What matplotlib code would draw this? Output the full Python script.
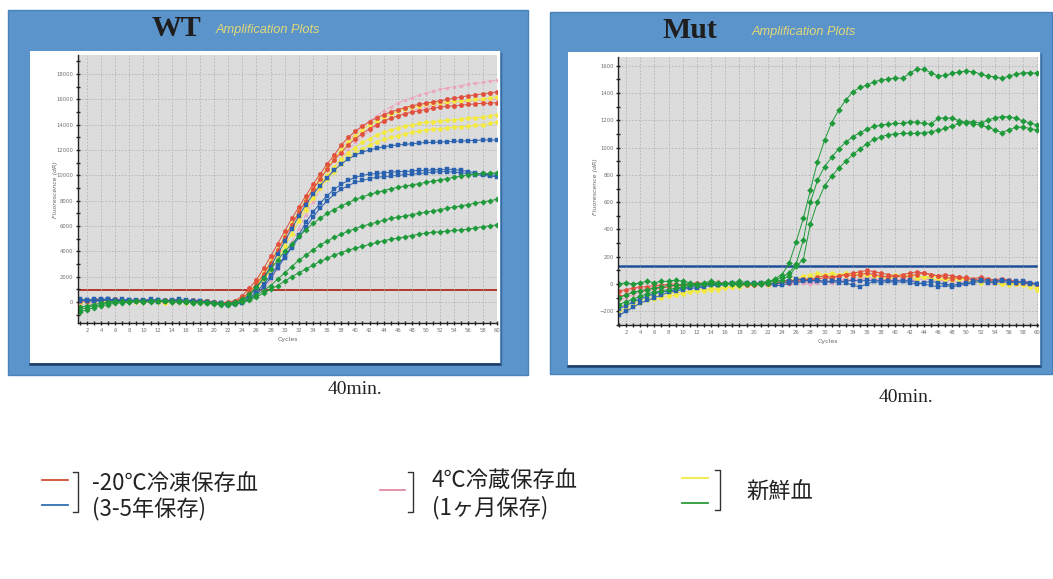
import matplotlib
matplotlib.use("Agg")
import matplotlib.pyplot as plt
from matplotlib.patches import Rectangle
from matplotlib.ticker import MultipleLocator

W, H = 1053, 579

cycles = list(range(1, 61))

# ---------------- WT (dR) ----------------
wt_red_1 = [150, 100, 200, 150, 100, 200, 150, 100, 150, 100, 50, 100, 150, 100, 50, 100, 150, 100, 50, 0,
            -50, 0, 100, 500, 1100, 1750, 2650, 3600, 4600, 5600, 6600, 7500, 8400, 9300, 10100, 10900, 11600, 12400, 13000, 13500,
            13900, 14250, 14550, 14800, 15000, 15200, 15350, 15500, 15600, 15700, 15800, 15900, 16000, 16100, 16200, 16300, 16350, 16450, 16500, 16600]
wt_red_2 = [50, 100, 150, 150, 200, 150, 100, 150, 100, 150, 100, 50, 100, 150, 100, 50, 50, 100, 50, 0,
            -100, -50, 50, 300, 800, 1400, 2200, 3100, 4100, 5100, 6100, 7100, 8000, 8900, 9700, 10500, 11200, 11800, 12400, 12900,
            13300, 13700, 14000, 14300, 14500, 14700, 14850, 15000, 15100, 15200, 15300, 15400, 15450, 15500, 15550, 15600, 15650, 15700, 15700, 15750]
wt_pink_1 = [-400, -300, -200, -100, 0, 50, 100, 100, 50, 100, 50, 0, 50, 100, 50, 0, 50, 0, -50, -100,
             -150, -100, 0, 300, 700, 1300, 2100, 3000, 4000, 5000, 6000, 7000, 7900, 8800, 9700, 10500, 11300, 12000, 12700, 13300,
             13800, 14300, 14700, 15100, 15400, 15700, 15950, 16150, 16350, 16500, 16650, 16800, 16900, 17000, 17100, 17200, 17300, 17350, 17450, 17500]
wt_pink_2 = [-200, -150, -100, -50, 0, 50, 0, 50, 100, 50, 0, 50, 0, -50, 0, 50, 0, -50, -100, -150,
             -200, -150, -100, 0, 200, 500, 1000, 1700, 2600, 3600, 4700, 5800, 6900, 7900, 8900, 9800, 10600, 11300, 12000, 12600,
             13100, 13500, 13900, 14200, 14500, 14700, 14900, 15100, 15250, 15400, 15500, 15600, 15700, 15750, 15800, 15850, 15900, 15950, 16000, 16000]
wt_yellow_1 = [0, 50, 100, 100, 50, 100, 50, 0, 50, 100, 50, 0, -50, 0, 50, 0, -50, 0, -50, -100,
               -150, -100, 0, 300, 800, 1500, 2300, 3200, 4200, 5200, 6200, 7200, 8100, 9000, 9800, 10600, 11300, 12000, 12600, 13100,
               13600, 14000, 14300, 14600, 14850, 15050, 15250, 15400, 15500, 15600, 15700, 15750, 15800, 15850, 15900, 15950, 16000, 16050, 16100, 16200]
wt_yellow_2 = [100, 150, 100, 50, 100, 50, 0, 50, 0, 50, 100, 50, 0, 50, 0, -50, 0, 50, 0, -50,
               -100, -50, 50, 300, 700, 1300, 2000, 2900, 3800, 4800, 5800, 6700, 7600, 8500, 9300, 10000, 10700, 11300, 11800, 12200,
               12600, 12900, 13200, 13400, 13600, 13750, 13900, 14000, 14100, 14200, 14250, 14300, 14350, 14400, 14450, 14500, 14550, 14600, 14700, 14800]
wt_yellow_3 = [0, 0, 50, 100, 50, 0, 50, 100, 50, 0, 50, 0, -50, 0, 50, 0, -50, -100, -50, -100,
               -150, -200, -100, 100, 500, 1000, 1700, 2500, 3400, 4400, 5400, 6400, 7300, 8200, 9000, 9700, 10300, 10900, 11400, 11800,
               12100, 12400, 12650, 12850, 13000, 13150, 13300, 13400, 13500, 13600, 13650, 13700, 13750, 13800, 13850, 13900, 13950, 14000, 14100, 14200]
wt_blue_1 = [200, 150, 200, 250, 200, 150, 200, 150, 100, 150, 200, 150, 100, 150, 200, 150, 100, 50, 0, -50,
             -100, -200, -150, 100, 500, 1100, 1900, 2800, 3800, 4800, 5800, 6800, 7700, 8500, 9200, 9800, 10400, 10900, 11300, 11600,
             11850, 12000, 12150, 12250, 12350, 12400, 12450, 12500, 12550, 12600, 12600, 12650, 12650, 12700, 12700, 12750, 12750, 12800, 12800, 12800]
wt_blue_2 = [100, 150, 100, 150, 200, 150, 100, 150, 100, 50, 100, 150, 100, 50, 100, 50, 0, 50, 0, -50,
             -100, -150, -100, 0, 300, 800, 1400, 2100, 2900, 3600, 4400, 5300, 6300, 7100, 7800, 8400, 8900, 9300, 9600, 9850,
             10000, 10100, 10150, 10200, 10250, 10300, 10300, 10350, 10400, 10400, 10450, 10450, 10500, 10450, 10400, 10300, 10200, 10100, 10050, 10000]
wt_blue_3 = [150, 100, 50, 100, 150, 100, 50, 100, 150, 100, 50, 0, 50, 100, 50, 0, 50, 0, -50, -100,
             -150, -200, -150, -50, 200, 600, 1200, 1900, 2700, 3500, 4300, 5100, 5900, 6700, 7400, 8000, 8500, 8900, 9200, 9450,
             9600, 9750, 9850, 9900, 9950, 10000, 10050, 10100, 10150, 10200, 10250, 10300, 10300, 10250, 10200, 10150, 10050, 10000, 9950, 9900]
wt_green_1 = [-800, -600, -450, -300, -200, -100, -50, 0, 50, 0, 50, 100, 50, 0, 50, 0, -50, 0, -50, -100,
              -150, -100, 0, 200, 600, 1200, 1900, 2600, 3300, 4000, 4600, 5200, 5700, 6200, 6600, 7000, 7300, 7600, 7850, 8100,
              8300, 8500, 8650, 8800, 8950, 9050, 9150, 9250, 9350, 9450, 9550, 9650, 9750, 9850, 9950, 10050, 10100, 10150, 10150, 10200]
wt_green_2 = [-400, -300, -200, -100, 0, 50, 0, 50, 100, 50, 0, 50, 100, 50, 0, 50, 0, -50, 0, -50,
              -100, -150, -50, 50, 250, 550, 900, 1300, 1800, 2300, 2800, 3300, 3700, 4100, 4500, 4800, 5100, 5350, 5600, 5800,
              6000, 6150, 6300, 6450, 6600, 6700, 6800, 6900, 7000, 7100, 7200, 7300, 7400, 7500, 7600, 7700, 7800, 7900, 8000, 8100]
wt_green_3 = [-600, -450, -300, -200, -100, 0, 50, 0, 50, 0, 50, 100, 50, 0, 50, 0, -50, 0, -100, -150,
              -200, -250, -150, 0, 150, 400, 700, 1000, 1300, 1650, 2000, 2300, 2600, 2900, 3200, 3450, 3700, 3900, 4100, 4250,
              4400, 4550, 4700, 4850, 4950, 5050, 5150, 5250, 5350, 5450, 5500, 5550, 5600, 5650, 5700, 5750, 5850, 5950, 6000, 6100]
wt_threshold = 950

# ---------------- Mut (dR) ----------------
mut_green_1 = [0, 10, 0, 10, 20, 10, 20, 20, 30, 20, 10, 0, 10, 20, 10, 0, 10, 20, 10, 0,
               0, 10, 40, 70, 151, 310, 481, 689, 897, 1055, 1182, 1275, 1348, 1410, 1441, 1458, 1483, 1495, 1502, 1512,
               1507, 1544, 1576, 1573, 1549, 1524, 1529, 1544, 1556, 1561, 1556, 1539, 1524, 1520, 1507, 1524, 1539, 1549, 1549, 1544]
mut_green_2 = [-100, -80, -60, -50, -40, -30, -20, -10, -10, 0, 0, -10, 0, 10, 0, 10, 0, -10, 0, 10,
               0, 10, 30, 50, 80, 150, 320, 600, 760, 860, 930, 990, 1040, 1080, 1110, 1135, 1155, 1165, 1172, 1177,
               1177, 1190, 1185, 1177, 1172, 1214, 1219, 1214, 1197, 1182, 1175, 1165, 1150, 1130, 1110, 1130, 1150, 1150, 1140, 1128]
mut_green_3 = [-150, -130, -110, -90, -70, -60, -50, -40, -30, -20, -10, -10, 0, 0, 10, 0, 10, 0, 10, 0,
               10, 20, 20, 30, 60, 130, 180, 440, 600, 720, 790, 850, 900, 950, 990, 1030, 1060, 1080, 1095, 1100,
               1104, 1104, 1104, 1110, 1116, 1128, 1141, 1158, 1177, 1190, 1190, 1180, 1200, 1220, 1226, 1226, 1215, 1195, 1180, 1165]
mut_red_1 = [-50, -40, -30, -20, -20, -10, -10, 0, 0, -10, 0, 10, 0, 10, 0, 10, 0, 10, 0, -10,
             0, 10, 0, 20, 30, 20, 30, 40, 30, 50, 40, 60, 70, 80, 90, 100, 90, 80, 70, 60,
             70, 80, 90, 80, 70, 60, 70, 60, 50, 50, 40, 50, 40, 30, 40, 30, 20, 10, 10, 0]
mut_red_2 = [-90, -80, -60, -50, -40, -30, -30, -20, -10, -10, 0, -10, 0, 10, 0, 0, 10, 0, -10, 0,
             10, 0, 10, 20, 10, 30, 40, 30, 50, 60, 50, 60, 70, 60, 70, 80, 70, 60, 50, 60,
             50, 60, 70, 80, 70, 60, 50, 40, 50, 40, 30, 40, 30, 20, 30, 20, 10, 20, 10, 0]
mut_blue_1 = [-230, -200, -170, -140, -120, -100, -80, -60, -50, -40, -30, -30, -20, -10, -10, 0, 0, 0, 10, 0,
              10, 0, -10, -10, 10, 40, 30, 20, 30, 20, 20, 30, 10, -10, -20, 0, 20, 30, 20, 10,
              20, 30, 10, 0, -10, -20, -10, -20, -10, 0, 10, 20, 10, 20, 30, 20, 10, 20, 10, 0]
mut_blue_2 = [-180, -160, -130, -110, -90, -70, -60, -50, -40, -30, -20, -20, -10, 0, -10, 0, 10, 0, 0, 10,
              0, 10, 0, 10, 20, 10, 20, 30, 20, 10, 20, 10, 20, 30, 20, 30, 20, 10, 20, 30,
              20, 10, 0, 10, 20, 10, 0, -10, 0, 10, 20, 30, 20, 10, 20, 10, 20, 10, 0, 0]
mut_pink_1 = [-120, -100, -80, -60, -50, -40, -30, -20, -20, -10, -10, 0, 0, 10, 0, 10, 0, 0, -10, 0,
              0, -10, 0, 10, 0, 10, 20, 10, 20, 30, 20, 30, 40, 30, 40, 50, 40, 30, 40, 30,
              40, 30, 40, 50, 40, 30, 20, 30, 40, 30, 20, 30, 20, 10, 20, 10, 0, 10, 0, -10]
mut_pink_2 = [-60, -50, -40, -30, -30, -20, -20, -10, -10, 0, 0, 10, 0, 10, 20, 10, 0, 10, 0, -10,
              -10, 0, -10, 0, 10, 20, 10, 0, 10, 20, 10, 20, 30, 20, 30, 40, 30, 40, 30, 20,
              30, 20, 30, 40, 30, 20, 30, 20, 10, 20, 10, 20, 10, 0, 10, 0, 10, 0, -10, 0]
mut_yellow_1 = [-200, -180, -160, -140, -120, -110, -100, -90, -80, -70, -60, -50, -50, -40, -40, -30, -20, -20, -10, -10,
                0, -10, 0, 10, 20, 30, 40, 50, 60, 70, 60, 70, 80, 70, 60, 70, 60, 50, 60, 70,
                60, 50, 40, 50, 60, 50, 40, 30, 40, 30, 20, 30, 20, 10, 0, 10, 0, -10, -20, -40]
mut_yellow_2 = [-170, -150, -140, -120, -100, -90, -80, -70, -60, -60, -50, -40, -40, -30, -30, -20, -20, -10, -10, 0,
                0, 10, 0, 20, 30, 40, 60, 70, 80, 70, 80, 70, 60, 70, 80, 70, 60, 50, 40, 50,
                60, 70, 60, 50, 40, 30, 40, 50, 40, 30, 20, 10, 20, 10, 0, -10, 0, 10, 0, -20]
mut_threshold = 134

RED = '#e0503c'
PINK = '#eda2bd'
YELLOW = '#f4ea3e'
BLUE = '#2a62b0'
GREEN = '#1e9a3a'
FRAME = '#5b94cb'

fig = plt.figure(figsize=(W / 100, H / 100), dpi=100)
fig.patch.set_facecolor('white')

# pixel-based canvas for frames, titles and legend
bg = fig.add_axes([0, 0, 1, 1])
bg.set_xlim(0, W)
bg.set_ylim(H, 0)
bg.axis('off')


def frac(x0, y0, x1, y1):
    return [x0 / W, 1 - y1 / H, (x1 - x0) / W, (y1 - y0) / H]


def panel(x0, y0, x1, y1, wx0, wy0, wx1, wy1):
    bg.add_patch(Rectangle((x0, y0), x1 - x0, y1 - y0, facecolor=FRAME,
                           edgecolor='#4a82bb', lw=1))
    bg.add_patch(Rectangle((wx0, wy0), wx1 - wx0, wy1 - wy0, facecolor='white',
                           edgecolor='none'))
    bg.plot([wx0, wx1], [wy1 + 1, wy1 + 1], color='#1e3c66', lw=1.8)
    bg.plot([wx1 + 1, wx1 + 1], [wy0 + 2, wy1 + 1], color='#3c6a9c', lw=1.0)


panel(8, 10, 528, 375, 30, 51, 500, 363)
panel(550, 12, 1052, 374, 568, 52, 1040, 365)

bg.text(177, 28, 'WT', ha='center', va='center', fontsize=21.5,
        family='Liberation Serif', fontweight='bold', color='#1e1e1e')
bg.text(216, 30, 'Amplification Plots', ha='left', va='center', fontsize=9.2,
        family='Liberation Sans', style='italic', color='#e2d878')
bg.text(690, 30, 'Mut', ha='center', va='center', fontsize=21.5,
        family='Liberation Serif', fontweight='bold', color='#1e1e1e')
bg.text(752, 32, 'Amplification Plots', ha='left', va='center', fontsize=9.2,
        family='Liberation Sans', style='italic', color='#e2d878')

bg.text(55, 190, 'Fluorescence (dR)', rotation=90, ha='center', va='center',
        fontsize=4.5, style='italic', color='#666666')
bg.text(595, 187, 'Fluorescence (dR)', rotation=90, ha='center', va='center',
        fontsize=4.5, style='italic', color='#666666')

bg.text(355, 390, '40min.', ha='center', va='center', fontsize=14,
        family='Liberation Serif', color='#222222')
bg.text(906, 397, '40min.', ha='center', va='center', fontsize=14,
        family='Liberation Serif', color='#222222')


def style_axes(ax, xlim, ylim, yticks, yminor):
    ax.set_facecolor('#dcdcdc')
    ax.set_xlim(*xlim)
    ax.set_ylim(*ylim)
    ax.set_xticks(range(2, 61, 2))
    ax.set_yticks(yticks)
    ax.xaxis.set_minor_locator(MultipleLocator(1))
    ax.yaxis.set_minor_locator(MultipleLocator(yminor))
    ax.grid(True, which='major', color='#b4b4b4', ls=(0, (2, 2)), lw=0.6)
    ax.tick_params(which='both', direction='inout', length=2.5, width=1,
                   color='#222222', labelsize=3.8, labelcolor='#707070', pad=2)
    for side in ('top', 'right'):
        ax.spines[side].set_visible(False)
    for side in ('left', 'bottom'):
        ax.spines[side].set_color('#222222')
        ax.spines[side].set_linewidth(1.0)
    ax.set_xlabel('Cycles', fontsize=4.5, color='#666666', labelpad=3)


def curve(ax, y, color, marker, ms, lw=0.7, ls='-', alpha=1.0):
    ax.plot(cycles, y, color=color, marker=marker, ms=ms, lw=lw, ls=ls,
            mec=color, mew=0.3, alpha=alpha)


# WT plot
ax1 = fig.add_axes(frac(78, 55, 497, 323))
style_axes(ax1, (0.73, 60.05), (-1660, 19510), range(0, 18001, 2000), 1000)
ax1.axhline(wt_threshold, color='#b03a2a', lw=1.4, zorder=1.5)
for y in (wt_pink_1, wt_pink_2):
    curve(ax1, y, PINK, 'o', 2.2, lw=0.8, ls=(0, (3, 1.5)), alpha=0.9)
for y in (wt_yellow_1, wt_yellow_2, wt_yellow_3):
    curve(ax1, y, YELLOW, 'o', 3.0)
for y in (wt_red_1, wt_red_2):
    curve(ax1, y, RED, 'o', 3.2)
for y in (wt_blue_1, wt_blue_2, wt_blue_3):
    curve(ax1, y, BLUE, 's', 3.2)
for y in (wt_green_1, wt_green_2, wt_green_3):
    curve(ax1, y, GREEN, 'D', 2.8)

# Mut plot
ax2 = fig.add_axes(frac(618, 57, 1038, 325))
style_axes(ax2, (0.87, 60.1), (-300, 1664), range(-200, 1601, 200), 100)
ax2.axhline(mut_threshold, color='#1f4f9a', lw=1.8, zorder=1.5)
for y in (mut_pink_1, mut_pink_2):
    curve(ax2, y, PINK, 'o', 2.4)
for y in (mut_yellow_1, mut_yellow_2):
    curve(ax2, y, YELLOW, 'o', 3.0)
for y in (mut_red_1, mut_red_2):
    curve(ax2, y, RED, 'o', 3.0)
for y in (mut_blue_1, mut_blue_2):
    curve(ax2, y, BLUE, 's', 3.0)
for y in (mut_green_1, mut_green_2, mut_green_3):
    curve(ax2, y, GREEN, 'D', 3.0)

# legend
JP = ['Noto Sans CJK JP', 'DejaVu Sans']


def bracket(x, y0, y1):
    bg.plot([x - 5, x, x, x - 5], [y0, y0, y1, y1], color='#333333', lw=1.0)


bg.plot([42, 68], [480, 480], color='#d05030', lw=1.3)
bg.plot([42, 68], [505, 505], color='#3070b0', lw=1.3)
bracket(78, 472, 512)
bg.text(92, 484, '-20℃冷凍保存血', ha='left', va='center', fontsize=16,
        family=JP, color='#222222')
bg.text(92, 509, '(3-5年保存)', ha='left', va='center', fontsize=16,
        family=JP, color='#222222')

bg.plot([380, 405], [490, 490], color='#e08aa0', lw=1.3)
bracket(413, 472, 512)
bg.text(432, 481, '4℃冷蔵保存血', ha='left', va='center', fontsize=16,
        family=JP, color='#222222')
bg.text(432, 508, '(1ヶ月保存)', ha='left', va='center', fontsize=16,
        family=JP, color='#222222')

bg.plot([682, 708], [478, 478], color='#f2ea40', lw=1.3)
bg.plot([682, 708], [503, 503], color='#2a9a3a', lw=1.3)
bracket(720, 470, 510)
bg.text(746, 492, '新鮮血', ha='left', va='center', fontsize=16,
        family=JP, color='#222222')

fig.savefig('out.png', dpi=100, facecolor='white')
